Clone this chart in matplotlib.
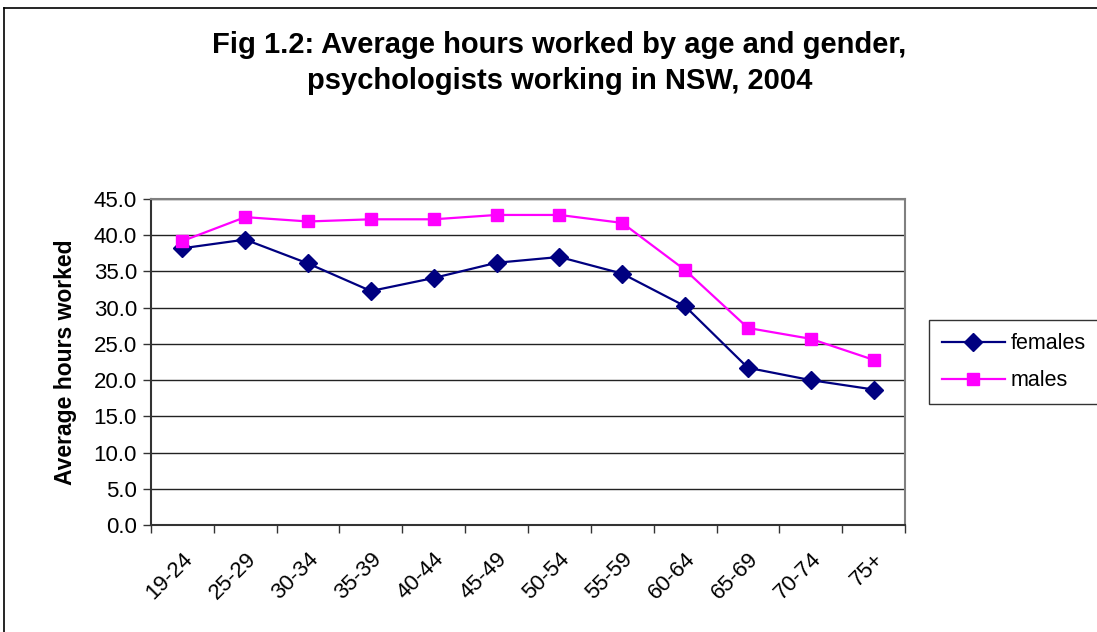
import numpy as np
import matplotlib.pyplot as plt
from matplotlib.lines import Line2D

# Data
age_groups = ['19-24', '25-29', '30-34', '35-39', '40-44', '45-49',
              '50-54', '55-59', '60-64', '65-69', '70-74', '75+']
females = [38.2, 39.4, 36.1, 32.3, 34.1, 36.2, 37.0, 34.7, 30.2, 21.7, 20.0, 18.7]
males = [39.2, 42.5, 41.9, 42.2, 42.2, 42.8, 42.8, 41.7, 35.2, 27.2, 25.7, 22.8]
y_ticks = np.arange(0, 45.1, 5)

plt.rcParams['font.family'] = ['Liberation Sans', 'DejaVu Sans']

fig = plt.figure(figsize=(10.97, 6.32), dpi=100)
ax = fig.add_axes([0.1376, 0.1693, 0.6874, 0.5158])

x = np.arange(len(age_groups))
ax.plot(x, females, color='#000080', marker='D', markersize=9, linewidth=1.6, label='females')
ax.plot(x, males, color='#FF00FF', marker='s', markersize=9, linewidth=1.6, label='males')

ax.set_xlim(-0.5, len(age_groups) - 0.5)
ax.set_ylim(0, 45)

# category axis: tick marks between categories, labels at centres
ax.set_xticks(np.arange(-0.5, len(age_groups), 1))
ax.set_xticklabels([])
ax.set_xticks(x, minor=True)
ax.set_xticklabels(age_groups, minor=True, rotation=45, ha='right',
                   rotation_mode='anchor', fontsize=16)
ax.tick_params(axis='x', which='minor', length=0, pad=17)
ax.tick_params(axis='x', which='major', length=6, width=1, color='#333333')

ax.set_yticks(y_ticks)
ax.set_yticklabels([f'{v:.1f}' for v in y_ticks], fontsize=16)
ax.tick_params(axis='y', length=6, width=1, color='#333333', pad=4)

ax.grid(axis='y', color='#222222', linewidth=1)
ax.set_axisbelow(True)

ax.spines['left'].set_color('#333333')
ax.spines['bottom'].set_color('#333333')
ax.spines['right'].set_color('#808080')
ax.spines['top'].set_color('#808080')
for s in ax.spines.values():
    s.set_linewidth(1.5)

ax.set_ylabel('Average hours worked', fontsize=16.5, fontweight='bold', labelpad=12)

fig.text(0.51, 0.9, 'Fig 1.2: Average hours worked by age and gender,\npsychologists working in NSW, 2004',
         ha='center', va='center', fontsize=21, fontweight='bold', linespacing=1.35)

leg = fig.legend(loc='center left', bbox_to_anchor=(0.847, 0.427), fontsize=15.5,
                 frameon=True, fancybox=False, edgecolor='black', handlelength=2.9,
                 borderpad=0.6, labelspacing=0.75, handletextpad=0.3, borderaxespad=0)
leg.get_frame().set_linewidth(1)

# chart area border
fig.add_artist(Line2D([4 / 1097, 1.0], [1 - 8 / 632, 1 - 8 / 632], color='black', linewidth=1.2))
fig.add_artist(Line2D([4 / 1097, 4 / 1097], [0.0, 1 - 8 / 632], color='black', linewidth=1.2))

fig.savefig('out.png', dpi=100)
